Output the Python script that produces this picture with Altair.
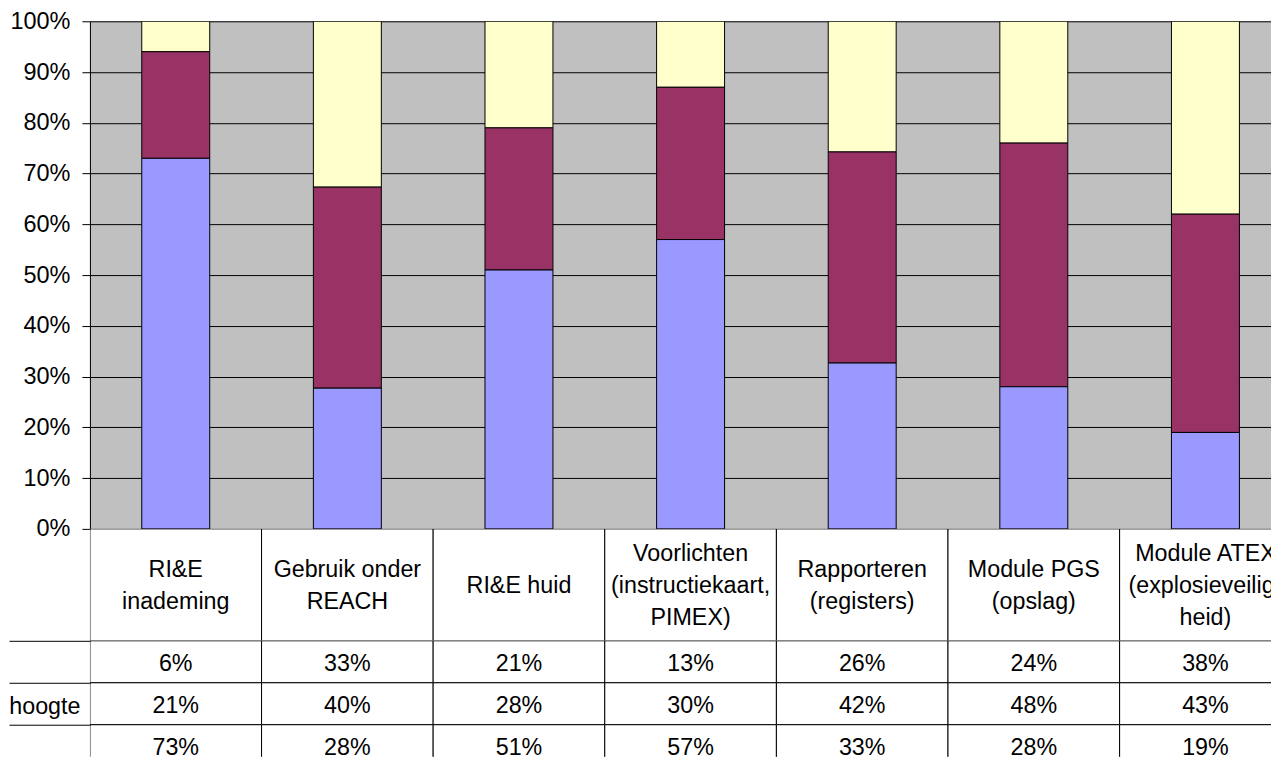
import altair as alt
import pandas as pd

FONT = "Liberation Sans"

# ---- data ----
categories = [
    "RI&E\ninademing",
    "Gebruik onder\nREACH",
    "RI&E huid",
    "Voorlichten\n(instructiekaart,\nPIMEX)",
    "Rapporteren\n(registers)",
    "Module PGS\n(opslag)",
    "Module ATEX\n(explosieveilig-\nheid)",
]
# table rows, top to bottom (= stack top to bottom)
series_keys = ["s1", "s2", "s3"]
series_labels = ["", "hoogte", ""]
series_colors = ["#FFFFCC", "#993366", "#9999FF"]
values_s1 = [6, 33, 21, 13, 26, 24, 38]
values_s2 = [21, 40, 28, 30, 42, 48, 43]
values_s3 = [73, 28, 51, 57, 33, 28, 19]
y_ticks = [0, 0.1, 0.2, 0.3, 0.4, 0.5, 0.6, 0.7, 0.8, 0.9, 1.0]

series_values = [values_s1, values_s2, values_s3]
rows = []
for j, key in enumerate(series_keys):
    for i, cat in enumerate(categories):
        v = series_values[j][i]
        rows.append({
            "cat": cat,
            "series": key,
            "value": v,
            "stack": len(series_keys) - 1 - j,
            "label": f"{v}%",
        })
df = pd.DataFrame(rows)
cat_df = pd.DataFrame({"cat": categories})

# one record per header text line, positioned in "line" units (centred block)
HDR_LINES = 3.5  # header cell height expressed in text lines
line_rows = []
for cat in categories:
    parts = cat.split("\n")
    n = len(parts)
    for k, p in enumerate(parts):
        line_rows.append({"cat": cat, "text": p,
                          "pos": HDR_LINES / 2 + (k - (n - 1) / 2)})
line_df = pd.DataFrame(line_rows)

W = 1182           # visible plot width (the last column runs off the page)
X_RANGE = 1202.25  # full width of the seven columns
AXIS_EXT = 81

# ---- top: 100% stacked bars ----
top = alt.Chart(df).mark_bar(stroke="black", strokeWidth=1, clip=True).encode(
    x=alt.X("cat:N", sort=categories, axis=None,
            scale=alt.Scale(paddingInner=0.604, paddingOuter=0.302, range=[0, X_RANGE])),
    y=alt.Y("value:Q", stack="normalize",
            scale=alt.Scale(domain=[0, 1], nice=False),
            axis=alt.Axis(title=None, values=y_ticks, format=".0%",
                          grid=True, gridColor="black", gridWidth=1, gridOpacity=1,
                          domainColor="black", domainWidth=1,
                          tickColor="black", tickSize=8, tickWidth=1,
                          labelPadding=12, labelFont=FONT, labelFontSize=23.5,
                          labelColor="black", labelFlush=False)),
    color=alt.Color("series:N", scale=alt.Scale(domain=series_keys, range=series_colors),
                    legend=None),
    order=alt.Order("stack:Q"),
).properties(width=W, height=508,
             view=alt.ViewBackground(fill="#C0C0C0", stroke=None))

# ---- header row of the data table ----
X_table = alt.X("cat:N", sort=categories, axis=None,
                scale=alt.Scale(paddingInner=0, paddingOuter=0, range=[0, X_RANGE]))

hdr_cells = alt.Chart(cat_df).mark_rect(fill="white", stroke="black", strokeWidth=1,
                                        clip=True).encode(x=X_table)
hdr_text = alt.Chart(line_df).mark_text(font=FONT, fontSize=23.3, color="black",
                                        baseline="middle", dy=1, clip=True).encode(
    x=X_table,
    y=alt.Y("pos:Q", axis=None,
            scale=alt.Scale(domain=[0, HDR_LINES], reverse=True, nice=False, zero=False)),
    text="text:N")
hdr = alt.layer(hdr_cells, hdr_text).properties(
    width=W, height=112, view=alt.ViewBackground(fill="white", stroke=None))

# ---- value rows of the data table ----
label_expr = " : ".join(
    [f"datum.value == '{k}' ? '{l}'" for k, l in zip(series_keys, series_labels)]
) + " : ''"

ROW_H = 42
Y_rows = alt.Y("series:N", sort=series_keys,
               scale=alt.Scale(paddingInner=0, paddingOuter=0, range=[0, 3 * ROW_H]),
               axis=alt.Axis(title=None, labelExpr=label_expr, domain=False,
                             tickOffset=-ROW_H / 2,
                             tickSize=AXIS_EXT, tickColor="black", tickWidth=1,
                             labelPadding=10 - AXIS_EXT,
                             labelOffset=ROW_H / 2 + 3, labelFont=FONT, labelFontSize=23.3,
                             labelColor="black"))

val_cells = alt.Chart(df).mark_rect(fill="white", stroke="black", strokeWidth=1,
                                    clip=True).encode(x=X_table, y=Y_rows)
val_text = alt.Chart(df).mark_text(font=FONT, fontSize=23.3, color="black",
                                   baseline="middle", dy=2, clip=True).encode(
    x=X_table, y=Y_rows, text="label:N")
vals = alt.layer(val_cells, val_text).properties(
    width=W, height=116, view=alt.ViewBackground(fill="white", stroke=None))

chart = alt.vconcat(top, hdr, vals, spacing=0, bounds="flush").resolve_scale(
    x="independent", y="independent"
).properties(
    padding={"left": 0, "top": 1, "right": 0, "bottom": 0},
    background="white",
)

chart.save("out.html", embed_options={"renderer": "svg", "actions": False})
